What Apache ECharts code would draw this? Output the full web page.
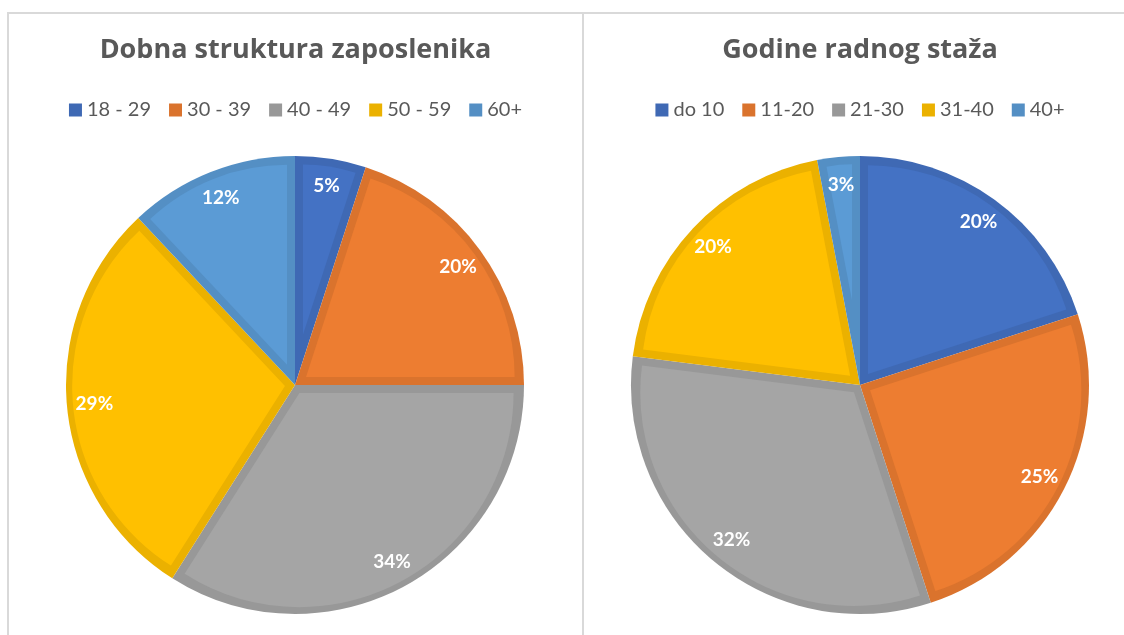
<!DOCTYPE html>
<html>
<head>
<meta charset="utf-8">
<title>pie</title>
<script src="https://cdn.jsdelivr.net/npm/echarts@6/dist/echarts.min.js"></script>
<style>
  body { margin: 0; background: #fff; overflow: hidden; width: 1124px; height: 635px; position: relative; }
  #lijevo { position: absolute; left: 7px; top: 12px; width: 573px; height: 640px; border: 2px solid #d9d9d9; border-bottom: none; }
  #desno { position: absolute; left: 584px; top: 12px; width: 552px; height: 640px; border-top: 2px solid #d9d9d9; }
</style>
</head>
<body>
<div id="lijevo"></div>
<div id="desno"></div>
<script>
// podaci
var dobNazivi = ['18 - 29', '30 - 39', '40 - 49', '50 - 59', '60+'];
var dobVrijednosti = [5, 20, 34, 29, 12];
var stazNazivi = ['do 10', '11-20', '21-30', '31-40', '40+'];
var stazVrijednosti = [20, 25, 32, 20, 3];

var boje = ['#4472C4', '#ED7D31', '#A5A5A5', '#FFC000', '#5B9BD5'];
var rubovi = ['#3F69B4', '#DA732D', '#989898', '#EBB100', '#548FC4'];

var R = 229, RUB = 8;

// svaki isječak: tamna podloga + svijetli isječak uvučen za RUB px
function napraviOpciju(naslov, nazivi, vrijednosti, centar) {
  var ukupno = vrijednosti.reduce(function (a, b) { return a + b; }, 0);
  var serije = [];

  serije.push({
    type: 'pie', center: centar, radius: R, silent: true,
    label: { show: false }, labelLine: { show: false },
    data: nazivi.map(function (n, i) {
      return { name: n, value: vrijednosti[i], itemStyle: { color: rubovi[i] } };
    })
  });

  var kut = 0;
  vrijednosti.forEach(function (v, i) {
    var th = v / ukupno * 2 * Math.PI;
    var sred = kut + th / 2;
    var c = Math.cos(th / 2), s = Math.sin(th / 2);
    var pom = RUB / s;
    var rBis = R - RUB - pom;
    var rKut = -pom * c + Math.sqrt((R - RUB) * (R - RUB) - RUB * RUB);
    serije.push({
      type: 'pie', silent: true,
      center: [centar[0] + pom * Math.sin(sred), centar[1] - pom * Math.cos(sred)],
      radius: (rBis + rKut) / 2,
      startAngle: 90 - kut * 180 / Math.PI,
      label: { show: false }, labelLine: { show: false },
      data: [
        { name: nazivi[i], value: v, itemStyle: { color: boje[i] } },
        { name: 'ostalo', value: ukupno - v, itemStyle: { color: 'rgba(0,0,0,0)' } }
      ]
    });
    kut += th;
  });

  serije.push({
    type: 'pie', center: centar, radius: [168, R], silent: true,
    itemStyle: { color: 'rgba(0,0,0,0)' },
    labelLine: { show: false },
    label: {
      show: true, position: 'inside',
      formatter: function (p) { return p.value + '%'; },
      color: '#fff', fontFamily: 'Lato', fontWeight: 'bold', fontSize: 19
    },
    data: nazivi.map(function (n, i) { return { name: n, value: vrijednosti[i] }; })
  });

  return {
    animation: false,
    title: {
      text: naslov, left: 'center', top: 18,
      textStyle: { fontFamily: 'Open Sans', fontWeight: 'bold', fontSize: 27, color: '#595959' }
    },
    legend: {
      data: nazivi, top: 81, left: 'center',
      icon: 'rect', itemWidth: 13, itemHeight: 13, itemGap: 18,
      selectedMode: false,
      textStyle: { fontFamily: 'Lato', fontSize: 20, color: '#595959' }
    },
    series: serije
  };
}

var grafL = echarts.init(document.getElementById('lijevo'));
grafL.setOption(napraviOpciju('Dobna struktura zaposlenika', dobNazivi, dobVrijednosti, [286, 371]));

var grafD = echarts.init(document.getElementById('desno'));
grafD.setOption(napraviOpciju('Godine radnog staža', stazNazivi, stazVrijednosti, [276, 371]));
</script>
</body>
</html>
